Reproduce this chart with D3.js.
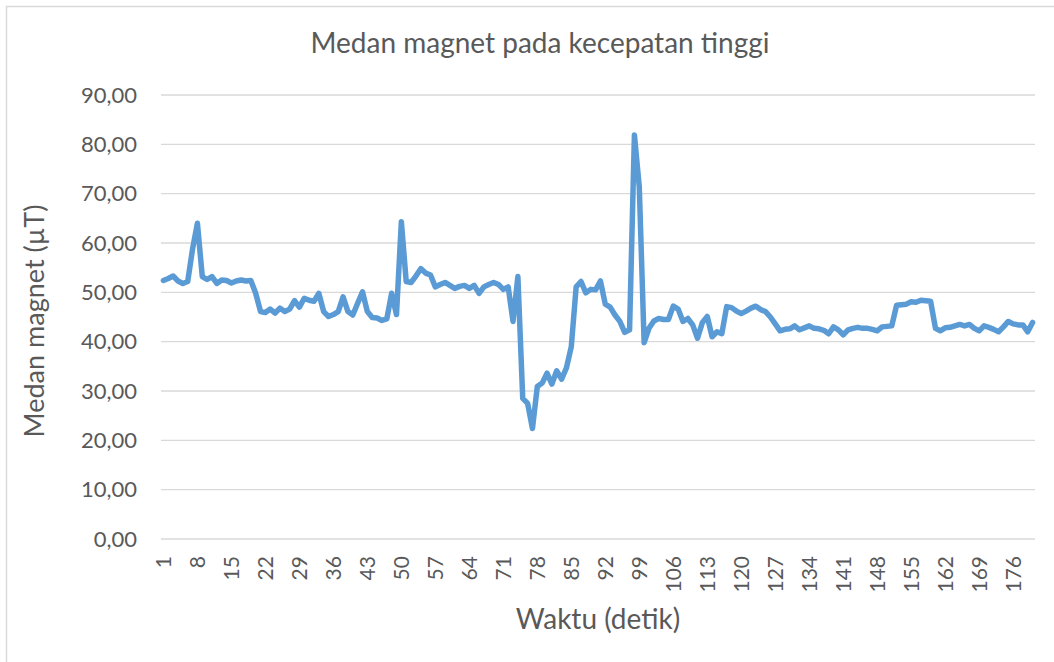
<!DOCTYPE html>
<meta charset="utf-8">
<script src="https://d3js.org/d3.v7.min.js"></script>
<style>
  body { margin: 0; background: #fff; }
  text { font-family: Lato, "Open Sans", sans-serif; fill: #595959; }
  .grid line { stroke: #d9d9d9; stroke-width: 1.3; }
  .line { fill: none; stroke: #5b9bd5; stroke-width: 5.5; stroke-linejoin: round; stroke-linecap: round; }
</style>
<div id="chart"></div>
<script>
// chart texts
var chartTitle = "Medan magnet pada kecepatan tinggi";
var xTitle = "Waktu (detik)";
var yTitle = "Medan magnet (\u00b5T)";

// seconds 1..180
var categories = d3.range(1, 181);

// field strength per second
var values = [
  52.4, 52.8, 53.3, 52.3, 51.8, 52.2, 58.8, 64.0, 53.2, 52.6,
  53.2, 51.8, 52.5, 52.4, 51.9, 52.3, 52.5, 52.3, 52.4, 49.8,
  46.1, 45.9, 46.6, 45.8, 46.8, 46.1, 46.6, 48.3, 47.0, 48.8,
  48.4, 48.2, 49.8, 46.1, 45.1, 45.5, 46.1, 49.1, 46.1, 45.4,
  47.8, 50.1, 46.1, 44.9, 44.8, 44.3, 44.6, 49.8, 45.5, 64.3,
  52.2, 52.0, 53.3, 54.8, 53.9, 53.5, 51.1, 51.6, 52.0, 51.4,
  50.8, 51.2, 51.4, 50.8, 51.4, 49.8, 51.1, 51.6, 52.0, 51.6,
  50.6, 51.1, 44.1, 53.2, 28.5, 27.5, 22.4, 30.9, 31.6, 33.6,
  31.4, 34.1, 32.4, 34.7, 39.0, 51.1, 52.2, 49.9, 50.6, 50.5,
  52.3, 47.6, 47.0, 45.4, 44.1, 41.9, 42.4, 81.9, 71.4, 39.8,
  42.7, 44.2, 44.7, 44.5, 44.5, 47.2, 46.6, 44.1, 44.7, 43.4,
  40.7, 43.9, 45.1, 41.0, 42.0, 41.6, 47.1, 46.9, 46.2, 45.7,
  46.2, 46.8, 47.2, 46.5, 46.1, 45.0, 43.6, 42.2, 42.5, 42.6,
  43.2, 42.4, 42.8, 43.2, 42.7, 42.6, 42.3, 41.6, 43.0, 42.4,
  41.4, 42.4, 42.7, 42.9, 42.7, 42.7, 42.5, 42.2, 43.0, 43.1,
  43.2, 47.4, 47.5, 47.6, 48.1, 48.0, 48.4, 48.3, 48.2, 42.7,
  42.2, 42.8, 42.9, 43.2, 43.5, 43.2, 43.5, 42.7, 42.2, 43.2,
  42.9, 42.5, 42.0, 43.0, 44.1, 43.6, 43.4, 43.4, 42.0, 43.9
];

// y ticks 0..90, x labels every 7th second
var yTicks = [0, 10, 20, 30, 40, 50, 60, 70, 80, 90];
var xTicks = categories.filter(function(d) { return (d - 1) % 7 === 0; });

var W = 1054, H = 662;
var margin = {top: 95, right: 19, bottom: 123, left: 161};

var svg = d3.select("#chart").append("svg")
    .attr("width", W)
    .attr("height", H);

// outer chart border
svg.append("rect")
    .attr("x", 6.5).attr("y", 6.5)
    .attr("width", W).attr("height", H)
    .attr("fill", "none")
    .attr("stroke", "#d9d9d9")
    .attr("stroke-width", 1.5);

var x = d3.scaleBand()
    .domain(categories)
    .range([margin.left, W - margin.right])
    .padding(0);

var y = d3.scaleLinear()
    .domain([0, 90])
    .range([H - margin.bottom, margin.top]);

var comma = d3.formatLocale({decimal: ",", thousands: ".", grouping: [3], currency: ["", ""]}).format(".2f");

// gridlines
svg.append("g")
    .attr("class", "grid")
    .selectAll("line")
    .data(yTicks)
    .enter().append("line")
      .attr("x1", margin.left)
      .attr("x2", W - margin.right)
      .attr("y1", function(d) { return y(d); })
      .attr("y2", function(d) { return y(d); });

// y axis labels
svg.append("g")
    .selectAll("text")
    .data(yTicks)
    .enter().append("text")
      .attr("x", 137)
      .attr("y", function(d) { return y(d); })
      .attr("dy", "0.35em")
      .attr("text-anchor", "end")
      .style("font-size", "22px")
      .text(function(d) { return comma(d); });

// x axis labels (rotated)
svg.append("g")
    .selectAll("text")
    .data(xTicks)
    .enter().append("text")
      .attr("transform", function(d) {
        return "translate(" + (x(d) + x.bandwidth() / 2) + "," + 556 + ") rotate(-90)";
      })
      .attr("dy", "0.35em")
      .attr("text-anchor", "end")
      .style("font-size", "21px")
      .text(function(d) { return d; });

// the line
var line = d3.line()
    .x(function(d, i) { return x(categories[i]) + x.bandwidth() / 2; })
    .y(function(d) { return y(d); });

svg.append("path")
    .datum(values)
    .attr("class", "line")
    .attr("d", line);

// titles
svg.append("text")
    .attr("x", 540)
    .attr("y", 53)
    .attr("text-anchor", "middle")
    .style("font-size", "28px")
    .text(chartTitle);

svg.append("text")
    .attr("x", 598)
    .attr("y", 629)
    .attr("text-anchor", "middle")
    .style("font-size", "28px")
    .text(xTitle);

svg.append("text")
    .attr("transform", "translate(44," + 321 + ") rotate(-90)")
    .attr("text-anchor", "middle")
    .style("font-size", "27px")
    .text(yTitle);
</script>
